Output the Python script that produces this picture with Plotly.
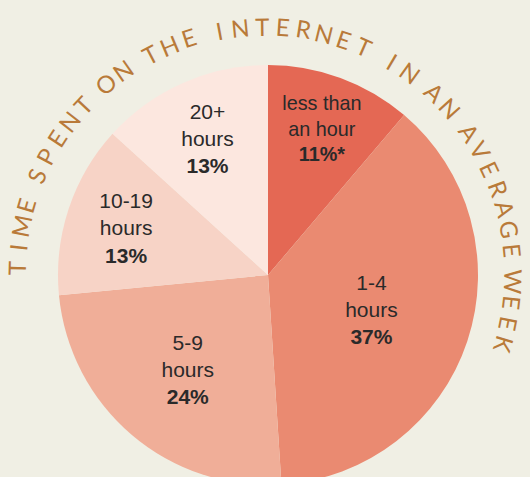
import math
import plotly.graph_objects as go

# ---- data ----
categories = ["less than<br>an hour", "1-4<br>hours", "5-9<br>hours", "10-19<br>hours", "20+<br>hours"]
shares = [11, 37, 24, 13, 13]
share_labels = ["11%*", "37%", "24%", "13%", "13%"]
title_text = "TIME SPENT ON THE INTERNET IN AN AVERAGE WEEK"

# ---- style ----
W, H = 530, 490
BG = "#f0efe4"
slice_colors = ["#e46854", "#ea8a71", "#f0ae98", "#f7d3c6", "#fce7df"]
GOLD = "#b97a39"
TEXT = "#2a2a2a"

# pie geometry in pixels
cx, cy, r = 268, 275, 210

fig = go.Figure(go.Pie(
    labels=categories,
    values=shares,
    text=share_labels,
    texttemplate="%{label}<br><b>%{text}</b>",
    textinfo="text",
    textposition="inside",
    insidetextorientation="horizontal",
    textfont=dict(family="Liberation Sans, Arial, sans-serif", size=21, color=TEXT),
    marker=dict(colors=slice_colors, line=dict(width=0)),
    sort=False,
    direction="clockwise",
    rotation=0,
    hole=0,
    showlegend=False,
    hoverinfo="label+text",
    domain=dict(x=[(cx - r) / W, (cx + r) / W], y=[1 - (cy + r) / H, 1 - (cy - r) / H]),
))

# ---- curved title: one annotation per character along an arc ----
tcx, tcy, tr = 265, 275, 249
start_angle = -88.4
gap = 4.85
space_gap = 7.35
angle = start_angle
annotations = []
prev_space = False
first = True
for ch in title_text:
    if ch == " ":
        prev_space = True
        continue
    if not first:
        angle += space_gap if prev_space else gap
    first = False
    prev_space = False
    a = math.radians(angle)
    px = tcx + tr * math.sin(a)
    py = tcy - tr * math.cos(a)
    annotations.append(dict(
        x=px / W, y=1 - py / H, xref="paper", yref="paper",
        text=ch, showarrow=False, textangle=angle,
        xanchor="center", yanchor="middle",
        font=dict(family="Lato, Open Sans, sans-serif", size=24, color=GOLD, weight=400),
    ))

fig.update_layout(
    width=W, height=H,
    margin=dict(l=0, r=0, t=0, b=0),
    paper_bgcolor=BG, plot_bgcolor=BG,
    annotations=annotations,
)

fig.write_html(
    "out.html",
    config={"displayModeBar": False},
    post_script="document.body.style.margin='0';document.body.style.overflow='hidden';document.body.style.background='" + BG + "';",
)
